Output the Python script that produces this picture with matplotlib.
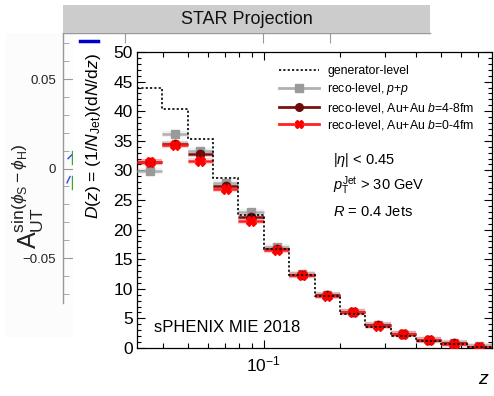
import matplotlib
matplotlib.use("Agg")
import matplotlib.pyplot as plt
import numpy as np
from matplotlib.lines import Line2D
from matplotlib.patches import Rectangle
from matplotlib.ticker import MultipleLocator, NullFormatter, FixedLocator

plt.rcParams['font.family'] = ['Liberation Sans', 'DejaVu Sans']
plt.rcParams['mathtext.fontset'] = 'custom'
plt.rcParams['mathtext.rm'] = 'Liberation Sans'
plt.rcParams['mathtext.it'] = 'Liberation Sans:italic'
plt.rcParams['mathtext.bf'] = 'Liberation Sans:bold'

# ---------------- data ----------------
z_edges = [0.0316, 0.0398, 0.0501, 0.0631, 0.0794, 0.1000, 0.1259, 0.1585,
           0.1995, 0.2512, 0.3162, 0.3981, 0.5012, 0.6310, 0.7943]
gen_level = [44.0, 40.4, 35.3, 28.7, 22.5, 16.8, 12.3, 8.7, 5.7, 3.6, 2.0, 1.2, 0.6, 0.2]
reco_pp = [29.9, 36.1, 33.3, 27.8, 22.9, 17.0, 12.5, 9.0, 6.1, 3.9, 2.4, 1.4, 0.8, 0.3]
reco_auau_4_8 = [31.4, 34.5, 32.8, 27.3, 22.2, 16.7, 12.4, 8.9, 6.0, 3.9, 2.4, 1.35, 0.8, 0.25]
reco_auau_0_4 = [31.4, 34.3, 31.6, 26.9, 21.5, 16.5, 12.3, 8.8, 6.0, 3.8, 2.3, 1.3, 0.75, 0.25]

legend_labels = ["generator-level", r"reco-level, $p$+$p$",
                 r"reco-level, Au+Au $b$=4-8fm", r"reco-level, Au+Au $b$=0-4fm"]
star_yticks = [-0.05, 0.0, 0.05]
star_yticklabels = ["\u22120.05", "0", "0.05"]

W, H = 494, 396
fig = plt.figure(figsize=(W / 100, H / 100), dpi=100)


def fx(x):
    return x / W


def fy(y):
    return 1 - y / H


# ---------------- STAR background panel ----------------
fig.patches.append(Rectangle((fx(5), fy(337)), fx(68), fy(33) - fy(337),
                             transform=fig.transFigure, facecolor='#fcfcfc',
                             edgecolor='none', zorder=0))
ax_s = fig.add_axes([fx(63), fy(303), fx(430 - 63), fy(33) - fy(303)], zorder=0.5)
ax_s.patch.set_alpha(0)
ax_s.set_xlim(63, 430)
ax_s.set_ylim(-0.0751, 0.0757)
for side in ['right', 'bottom']:
    ax_s.spines[side].set_visible(False)
for side in ['left', 'top']:
    ax_s.spines[side].set_color('#999999')
    ax_s.spines[side].set_linewidth(1.0)
ax_s.set_yticks(star_yticks)
ax_s.set_yticklabels(star_yticklabels)
ax_s.yaxis.set_minor_locator(MultipleLocator(0.01))
ax_s.tick_params(axis='y', which='both', direction='in', color='#999999',
                 labelsize=9.5, labelcolor='#222222', pad=5)
ax_s.tick_params(axis='y', which='major', length=7)
ax_s.tick_params(axis='y', which='minor', length=4)
ax_s.xaxis.tick_top()
ax_s.xaxis.set_major_locator(FixedLocator([125, 263, 330]))
ax_s.tick_params(axis='x', which='both', direction='in', color='#999999',
                 length=7, labeltop=False, labelbottom=False)
# visible fragments of STAR markers
ax_s.add_line(Line2D([80, 98], [0.0711, 0.0711], color='#0000cc', lw=2.5))
ax_s.add_line(Line2D([72, 72], [0.0100, 0.0028], color='#33aa33', lw=1))
ax_s.add_line(Line2D([68, 71.5], [0.0055, 0.0075], color='#3344ee', lw=1))
ax_s.add_line(Line2D([72, 72], [-0.0040, -0.0112], color='#33aa33', lw=1))
ax_s.add_line(Line2D([67, 70], [-0.0080, -0.0045], color='#3344ee', lw=1))
ax_s.add_line(Line2D([140, 222], [0.0688, 0.0688], color='#bbbbbb', lw=1.2,
                     ls=(0, (2, 1.5))))

fig.text(fx(28), fy(196),
         r"$\mathrm{A}_{\mathrm{UT}}^{\mathrm{sin}(\phi_{\mathrm{S}}-\phi_{\mathrm{H}})}$",
         rotation=90, ha='center', va='center', fontsize=18, color='#222222',
         zorder=0.6)

# header bar
fig.patches.append(Rectangle((fx(63), fy(33)), fx(430 - 63), fy(5) - fy(33),
                             transform=fig.transFigure, facecolor='#cccccc',
                             edgecolor='none', zorder=1))
fig.text(fx(247), fy(19), "STAR Projection", ha='center', va='center',
         fontsize=13, color='#111111', zorder=2)

# white overlay of the sPHENIX figure
fig.patches.append(Rectangle((fx(73), 0), 1 - fx(73), fy(44),
                             transform=fig.transFigure, facecolor='white',
                             edgecolor='none', zorder=1.5))

# ---------------- sPHENIX main axes ----------------
ax = fig.add_axes([fx(137), fy(348), fx(492 - 137), fy(52) - fy(348)], zorder=3)
edges = np.array(z_edges)
lo, hi = edges[:-1], edges[1:]
centers = np.sqrt(lo * hi)

ax.set_xscale('log')
ax.set_xlim(edges[0], edges[-1])
ax.set_ylim(0, 50)

series = [
    (reco_pp, '#9a9a9a', '#b0b0b0', 's', 6),
    (reco_auau_4_8, '#6e0a0a', '#7a1010', 'o', 6),
    (reco_auau_0_4, '#ff0000', '#ff2020', 'X', 6.5),
]
for vals, mc, lc, mk, ms in series:
    v = np.array(vals)
    ax.hlines(v, lo, hi, color=lc, lw=4.5, alpha=0.18, zorder=2)
    ax.hlines(v, lo, hi, color=lc, lw=1.8, zorder=3)
    ax.plot(centers, v, ls='none', marker=mk, color=mc, ms=ms, mec=mc, zorder=4)

ax.stairs(gen_level, edges, baseline=None, color='black', ls=(0, (1.3, 1.3)),
          lw=1.2, zorder=5)

ax.yaxis.set_major_locator(MultipleLocator(5))
ax.yaxis.set_minor_locator(MultipleLocator(1))
ax.xaxis.set_minor_formatter(NullFormatter())
ax.tick_params(which='both', direction='in', top=True, right=True,
               labelsize=12.5, width=0.8)
ax.tick_params(axis='y', which='major', length=6, pad=3)
ax.tick_params(axis='y', which='minor', length=3.2)
ax.tick_params(axis='x', which='major', length=6, pad=5)
ax.tick_params(axis='x', which='minor', length=3.5)
for sp in ax.spines.values():
    sp.set_linewidth(0.9)

handles = [
    Line2D([], [], color='black', ls=(0, (1.3, 1.3)), lw=1.2),
    Line2D([], [], color='#b0b0b0', lw=2, marker='s', ms=5.5, mfc='#9a9a9a', mec='#9a9a9a'),
    Line2D([], [], color='#7a1010', lw=2, marker='o', ms=5.5, mfc='#6e0a0a', mec='#6e0a0a'),
    Line2D([], [], color='#ff2020', lw=2, marker='X', ms=6, mfc='#ff0000', mec='#ff0000'),
]
ax.legend(handles, legend_labels, loc='upper left', bbox_to_anchor=(0.385, 0.972),
          frameon=False, fontsize=8.8, handlelength=3.3, handletextpad=0.7,
          labelspacing=0.3, borderaxespad=0)

ax.text(fx(333), fy(160), r"|$\eta$| < 0.45", transform=fig.transFigure,
        fontsize=10.5, va='center', ha='left')
ax.text(fx(333), fy(186), r"$p_{\mathrm{T}}^{\mathrm{Jet}}$ > 30 GeV",
        transform=fig.transFigure, fontsize=10.5, va='center', ha='left')
ax.text(fx(333), fy(212), r"$R$ = 0.4 Jets", transform=fig.transFigure,
        fontsize=10.5, va='center', ha='left')
ax.text(fx(154), fy(327), "sPHENIX MIE 2018", transform=fig.transFigure,
        fontsize=12, va='center', ha='left')

fig.text(fx(93), fy(136), r"$D(z)$ = (1/$N_{\mathrm{Jet}}$)(d$N$/d$z$)",
         rotation=90, ha='center', va='center', fontsize=12.5, zorder=4)
fig.text(fx(484), fy(379), r"$z$", ha='center', va='center', fontsize=14, zorder=4)

fig.savefig("out.png", dpi=100)
